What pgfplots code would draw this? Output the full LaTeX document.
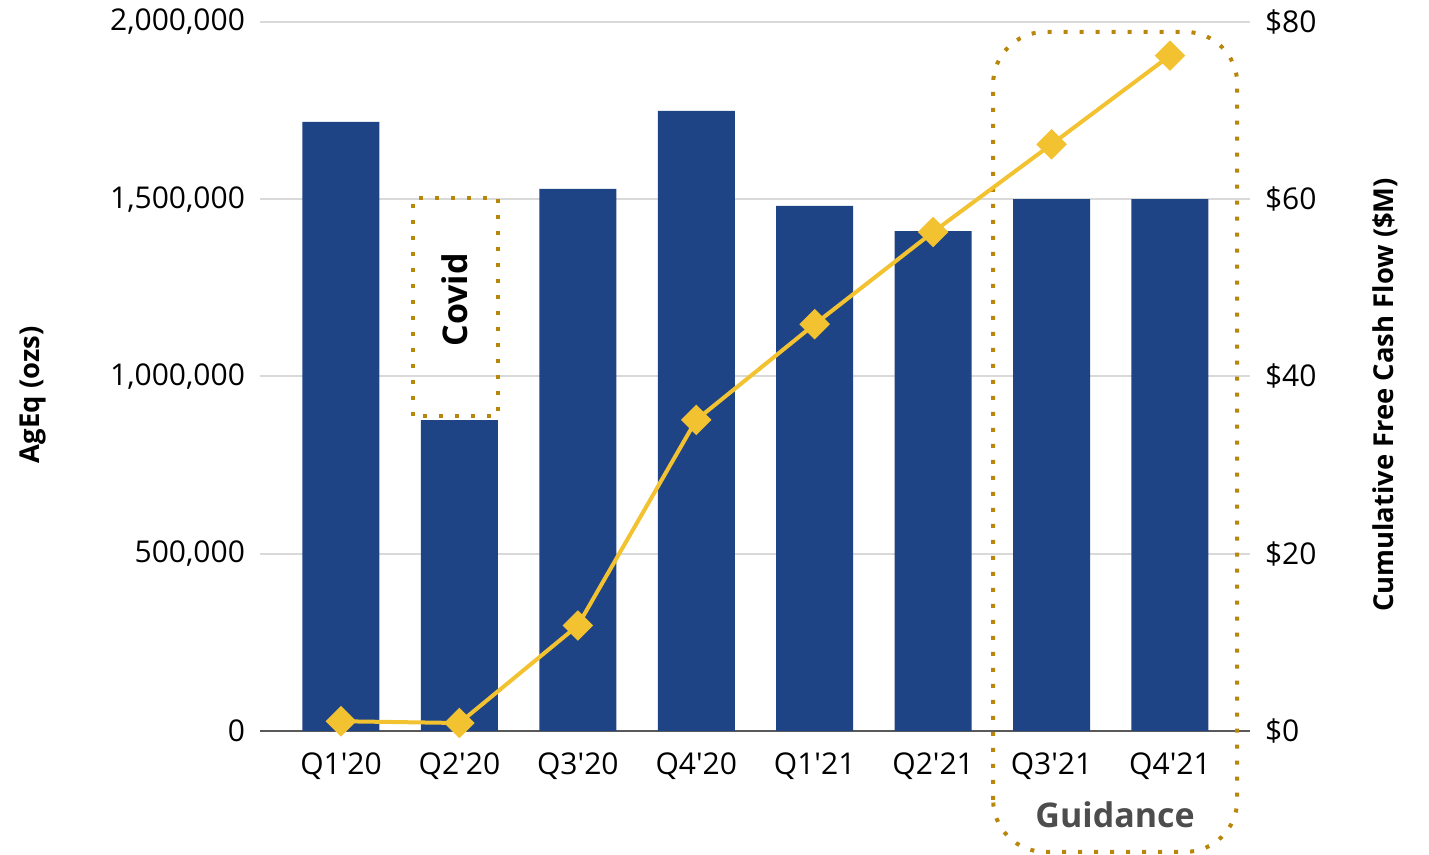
\documentclass[border=0pt]{standalone}
\usepackage{pgfplots}
\pgfplotsset{compat=1.18}
\usepackage{fontspec}
\setmainfont{Open Sans}
\definecolor{barblue}{RGB}{31,68,133}
\definecolor{linegold}{RGB}{242,194,48}
\definecolor{dotgold}{RGB}{184,134,11}
\definecolor{gridgray}{RGB}{217,217,217}
\definecolor{axisgray}{RGB}{89,89,89}
\definecolor{guidegray}{RGB}{77,77,77}
\newcommand{\q}{\textquotesingle}
\begin{document}
\begin{tikzpicture}[font=\fontsize{15}{18}\selectfont]
\pgfplotsset{
  base/.style={
    scale only axis, width=495pt, height=354.5pt,
    xmin=-0.684, xmax=7.676,
    clip=false,
  }
}
\begin{axis}[base,
  ymin=0, ymax=2000000,
  scaled y ticks=false,
  axis x line*=bottom, axis y line*=left,
  x axis line style={axisgray, line width=1pt, -},
  y axis line style={draw=none},
  xtick={0,...,7},
  xticklabels={Q1\q20,Q2\q20,Q3\q20,Q4\q20,Q1\q21,Q2\q21,Q3\q21,Q4\q21},
  xtick style={draw=none},
  ytick={0,500000,1000000,1500000,2000000},
  yticklabels={0,{500,000},{1,000,000},{1,500,000},{2,000,000}},
  ytick style={draw=none},
  ymajorgrids, grid style={gridgray, line width=1pt},
  yticklabel style={xshift=-4pt},
  xticklabel style={yshift=-7.5pt},
  ylabel={\fontsize{13.7}{16}\selectfont\bfseries AgEq (ozs)},
  ylabel style={at={(rel axis cs:-0.2293,0.474)}, anchor=center, rotate=0},
]
\addplot[ybar, bar width=38.5pt, fill=barblue, draw=none] coordinates {
  (0,1718000) (1,877000) (2,1529000) (3,1749000)
  (4,1481000) (5,1410000) (6,1500000) (7,1500000)
};
\coordinate (bl) at (rel axis cs:-0.2626,-0.1749);
\coordinate (tr) at (rel axis cs:1.1808,1.031);
% Covid box
\draw[dotgold, line width=2pt, dash pattern=on 2pt off 6pt]
  (axis cs:0.608,889000) rectangle (axis cs:1.326,1504000);
\node[rotate=90, font=\fontsize{17}{20}\selectfont\bfseries] at (axis cs:0.963,1216000) {Covid};
% Guidance box
\draw[dotgold, line width=2pt, dash pattern=on 2pt off 6pt, rounded corners=26pt]
  (axis cs:5.507,-341000) rectangle (axis cs:7.568,1972000);
\node[text=guidegray, font=\fontsize{17}{20}\selectfont\bfseries] at (axis cs:6.537,-237000) {Guidance};
\end{axis}
\begin{axis}[base,
  ymin=0, ymax=80,
  axis x line=none,
  axis y line*=right,
  y axis line style={draw=none},
  ytick={0,20,40,60,80},
  yticklabels={\$0,\$20,\$40,\$60,\$80},
  ytick style={draw=none},
  yticklabel style={xshift=4pt},
  ylabel={\fontsize{13.7}{16}\selectfont\bfseries Cumulative Free Cash Flow (\$M)},
  ylabel style={at={(rel axis cs:1.1364,0.474)}, anchor=center, rotate=0},
]
\addplot[linegold, line width=2pt, mark=square*, mark size=4.4pt,
  mark options={rotate=45, fill=linegold, draw=linegold}] coordinates {
  (0,1.1) (1,0.9) (2,11.9) (3,35.1) (4,45.9) (5,56.3) (6,66.2) (7,76.2)
};
\end{axis}
\pgfresetboundingbox
\useasboundingbox (bl) rectangle (tr);
\end{tikzpicture}
\end{document}
